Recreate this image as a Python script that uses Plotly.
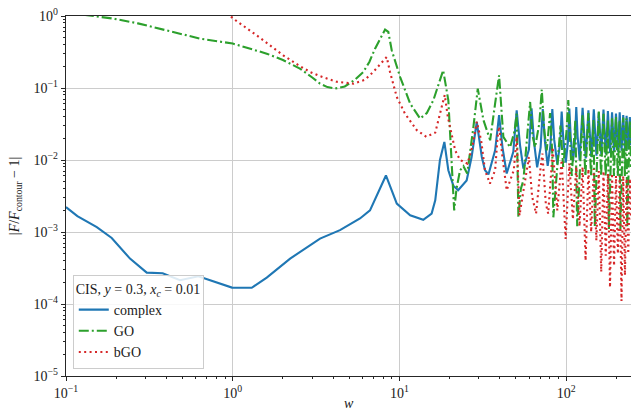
import plotly.graph_objects as go

# ---- complex (blue, solid) ----
w_complex = [0.1, 0.117, 0.153, 0.188, 0.242, 0.305, 0.38, 0.483, 0.622, 0.784,
             0.99, 1.30, 1.6, 2.21, 2.91, 3.34, 4.4, 5.8, 6.66, 7.47,
             8.3, 8.99, 9.64, 11.6, 13.9, 15.6, 16.4, 17.5, 18.6, 19.65,
             21.06, 22.5, 25.3, 27.1, 29.1, 31.2, 32.6, 34.2, 37.5, 39.6,
             41.5, 44.0, 48.2, 50.5, 52.9, 55.4, 59.8, 62.0, 64.3, 67.0,
             70.3, 72.4, 74.6, 77.5, 80.5, 82.6, 84.8, 88.5, 92.0, 94.0,
             96.2, 99.5, 102.5, 104.5, 106.6, 110.0, 113.0, 115.0, 117.2, 120.5,
             125.5, 131.0, 136.0, 141.5, 146.5, 152.0, 157.0, 162.5, 167.5, 173.0,
             178.0, 183.5, 188.5, 194.0, 199.0, 204.5, 209.5, 215.0, 220.0, 225.5,
             230.5, 236.0, 241.0, 245.0]
f_complex = [2.22e-3, 1.66e-3, 1.17e-3, 8.26e-4, 4.27e-4, 2.73e-4, 2.67e-4, 2.14e-4, 2.43e-4, 2.02e-4,
             1.69e-4, 1.68e-4, 2.33e-4, 4.27e-4, 6.53e-4, 8.1e-4, 1.06e-3, 1.54e-3, 2.0e-3, 3.6e-3,
             6.1e-3, 3.8e-3, 2.48e-3, 1.71e-3, 1.48e-3, 1.8e-3, 2.75e-3, 1.0e-2, 1.78e-2, 7.2e-3,
             4.4e-3, 3.8e-3, 5.2e-3, 1.1e-2, 3.37e-2, 1.1e-2, 7.2e-3, 6.3e-3, 1.36e-2, 4.2e-2,
             1.5e-2, 6.5e-3, 1.3e-2, 4.9e-2, 1.6e-2, 7.6e-3, 1.4e-2, 5.2e-2, 1.7e-2, 7.9e-3,
             1.5e-2, 5.1e-2, 1.8e-2, 8.3e-3, 1.6e-2, 5.1e-2, 1.9e-2, 8.8e-3, 1.7e-2, 4.7e-2,
             1.9e-2, 9.2e-3, 1.8e-2, 5.2e-2, 2.0e-2, 9.6e-3, 1.9e-2, 5.45e-2, 2.1e-2, 1.0e-2,
             5.3e-2, 1.05e-2, 4.9e-2, 1.1e-2, 5.05e-2, 1.15e-2, 4.6e-2, 1.2e-2, 5.0e-2, 1.2e-2,
             4.8e-2, 1.25e-2, 4.6e-2, 1.3e-2, 4.4e-2, 1.3e-2, 4.6e-2, 1.35e-2, 4.2e-2, 1.35e-2,
             4.1e-2, 1.4e-2, 3.95e-2, 1.6e-2]

# ---- GO (green, dash-dot) ----
w_go = [0.1, 0.153, 0.192, 0.27, 0.366, 0.5, 0.637, 1.0, 1.6, 2.0,
        2.53, 3.0, 3.34, 3.7, 4.11, 4.7, 5.4, 6.07, 6.6, 7.14,
        7.7, 8.2, 8.58, 8.99, 10.1, 11.6, 13.3, 14.6, 15.97, 17.2,
        18.3, 19.65, 20.7, 21.3, 22.0, 23.1, 24.2, 25.5, 27.8, 29.5,
        31.9, 35.0, 37.5, 39.6, 42.0, 46.1, 49.0, 50.5, 51.7, 53.5,
        55.4, 58.6, 60.8, 62.8, 65.1, 69.0, 71.4, 74.0, 76.5, 80.1,
        82.6, 83.8, 87.0, 92.5, 96.0, 100.5, 103.0, 108.0, 113.5, 116.5,
        120.0, 125.5, 130.5, 136.0, 141.0, 146.0, 148.5, 152.0, 157.0, 162.0,
        167.5, 172.5, 178.0, 180.5, 184.0, 188.5, 193.5, 199.0, 204.0, 209.0,
        211.5, 215.0, 220.0, 225.0, 230.0, 232.5, 236.0, 241.0, 245.0]
f_go = [1.12, 1.0, 0.92, 0.79, 0.668, 0.565, 0.485, 0.414, 0.30, 0.245,
        0.186, 0.14, 0.115, 0.103, 0.098, 0.105, 0.13, 0.167, 0.23, 0.352,
        0.5, 0.647, 0.6, 0.334, 0.142, 0.0607, 0.0376, 0.045, 0.0675, 0.11,
        0.176, 0.0675, 8e-3, 2e-3, 4e-3, 7.2e-3, 8.2e-3, 6.5e-3, 2.9e-2, 9.8e-2,
        3.6e-2, 1.88e-2, 6.1e-2, 0.15, 2.1e-2, 1.5e-2, 2.5e-2, 4.4e-2, 1.6e-3, 4e-3,
        5.2e-3, 2.2e-2, 6.4e-2, 2.2e-2, 1.5e-2, 3.2e-2, 9.5e-2, 2.5e-2, 1.36e-2, 4.5e-2,
        1.2e-2, 1.6e-3, 5e-3, 3e-2, 8e-3, 2.5e-2, 6.8e-2, 6e-3, 3.5e-2, 1.2e-3,
        5e-3, 4.2e-2, 6e-3, 4.5e-2, 6e-3, 3.6e-2, 1.2e-3, 5e-3, 4.7e-2, 6e-3,
        4.4e-2, 6e-3, 3.6e-2, 1.1e-3, 5e-3, 3.8e-2, 6e-3, 4e-2, 6e-3, 3.5e-2,
        1.1e-3, 5e-3, 3.9e-2, 6e-3, 3.8e-2, 1.2e-3, 5e-3, 3.5e-2, 8e-3]

# ---- bGO (red, dotted) ----
w_bgo = [0.93, 1.0, 1.39, 2.01, 2.5, 2.91, 3.34, 4.2, 5.3, 6.2,
         6.97, 7.8, 8.39, 8.78, 9.64, 10.8, 12.7, 14.5, 16.4, 17.9,
         18.7, 19.5, 20.6, 21.6, 23.1, 25.6, 27.5, 29.1, 30.9, 32.6,
         34.9, 37.5, 38.8, 39.6, 41.5, 44.0, 48.5, 50.5, 52.5, 57.5,
         59.8, 62.5, 66.0, 70.0, 72.0, 75.5, 78.0, 81.5, 83.0, 88.5,
         94.0, 99.3, 104.5, 109.8, 115.0, 120.3, 125.5, 130.8, 136.0, 141.3,
         146.5, 151.8, 157.0, 162.3, 167.5, 172.8, 178.0, 183.3, 188.5, 193.8,
         199.0, 204.3, 209.5, 214.8, 220.0, 225.3, 230.5, 235.8, 241.0, 245.0]
f_bgo = [1.12, 0.93, 0.54, 0.284, 0.205, 0.167, 0.146, 0.122, 0.115, 0.13,
         0.167, 0.22, 0.27, 0.167, 0.075, 0.044, 0.026, 0.021, 0.024, 0.054,
         0.08, 0.04, 0.022, 0.0136, 0.010, 0.0089, 0.016, 0.034, 0.0188, 0.0072,
         0.0047, 0.0072, 0.021, 0.029, 0.011, 0.0038, 0.0072, 0.021, 0.0017, 0.0058,
         0.011, 0.0031, 0.0018, 0.0072, 0.0123, 0.0025, 0.0018, 0.0072, 0.015, 0.002,
         0.010, 0.0008, 0.009, 0.0015, 0.008, 0.0012, 0.008, 0.0004, 0.0075, 0.001,
         0.0075, 0.00076, 0.007, 0.00028, 0.007, 0.00047, 0.0065, 0.00017, 0.0065, 0.00034,
         0.006, 0.0005, 0.006, 0.00011, 0.006, 0.00025, 0.0055, 0.0005, 0.0055, 0.0015]

# ---- ticks ----
x_major = [0.1, 1, 10, 100]
x_major_labels = ["10<sup>−1</sup>", "10<sup>0</sup>", "10<sup>1</sup>", "10<sup>2</sup>"]
y_major = [1e-5, 1e-4, 1e-3, 1e-2, 1e-1, 1]
y_major_labels = ["10<sup>−5</sup>", "10<sup>−4</sup>", "10<sup>−3</sup>",
                  "10<sup>−2</sup>", "10<sup>−1</sup>", "10<sup>0</sup>"]
minor_mult = [2, 3, 4, 5, 6, 7, 8, 9]
x_decades = [0.1, 1, 10, 100]
y_decades = [1e-5, 1e-4, 1e-3, 1e-2, 1e-1]

x_minor = [d * m for d in x_decades for m in minor_mult]
y_minor = [d * m for d in y_decades for m in minor_mult]

assert len(w_complex) == len(f_complex)
assert len(w_go) == len(f_go)
assert len(w_bgo) == len(f_bgo)

FONT = "Liberation Serif"
AX = "#262626"

fig = go.Figure()
fig.add_trace(go.Scatter(x=w_complex, y=f_complex, mode="lines", name="complex",
                         line=dict(color="#1f77b4", width=2.1)))
fig.add_trace(go.Scatter(x=w_go, y=f_go, mode="lines", name="GO",
                         line=dict(color="#2ca02c", width=2.1, dash="10px,3px,2px,3px")))
fig.add_trace(go.Scatter(x=w_bgo, y=f_bgo, mode="lines", name="bGO",
                         line=dict(color="#d62728", width=2.1, dash="2px,3.4px")))

common = dict(type="log", showgrid=True, gridcolor="#cccccc", gridwidth=1,
              showline=True, linecolor=AX, linewidth=1.4, mirror=True,
              zeroline=False, ticks="outside", ticklen=4, tickwidth=1, tickcolor=AX,
              ticklabeloverflow="allow",
              tickfont=dict(family=FONT, size=14, color="#1a1a1a"))

fig.update_layout(
    width=631, height=411,
    margin=dict(l=66, r=0, t=16, b=35),
    plot_bgcolor="white", paper_bgcolor="white",
    font=dict(family=FONT, size=14, color="#1a1a1a"),
    xaxis=dict(range=[-1, 2.389], tickvals=x_major, ticktext=x_major_labels,
               minor=dict(tickvals=x_minor, ticks="outside", ticklen=2,
                          tickcolor=AX, showgrid=False), **common),
    yaxis=dict(range=[-5, 0], tickvals=y_major, ticktext=y_major_labels,
               minor=dict(tickvals=y_minor, ticks="outside", ticklen=2,
                          tickcolor=AX, showgrid=False), **common),
    legend=dict(x=0.012, y=0.02, xanchor="left", yanchor="bottom",
                bgcolor="rgba(255,255,255,0.85)", bordercolor="#cccccc", borderwidth=1,
                title=dict(text="CIS, <i>y</i> = 0.3, <i>x<sub>c</sub></i> = 0.01",
                           font=dict(family=FONT, size=14)),
                font=dict(family=FONT, size=14), tracegroupgap=0),
    annotations=[
        dict(text="<i>w</i>", xref="paper", yref="paper", x=0.5, y=-0.075,
             xanchor="center", yanchor="middle", showarrow=False,
             font=dict(family=FONT, size=14)),
        dict(text="|<i>F</i>/<i>F</i><sub>contour</sub> − 1|", xref="paper", yref="paper",
             x=-0.09, y=0.5, xanchor="center", yanchor="middle", textangle=-90,
             showarrow=False, font=dict(family=FONT, size=14)),
    ],
)

fig.write_html("out.html", config={"displayModeBar": False},
               post_script="document.body.style.margin='0';")
